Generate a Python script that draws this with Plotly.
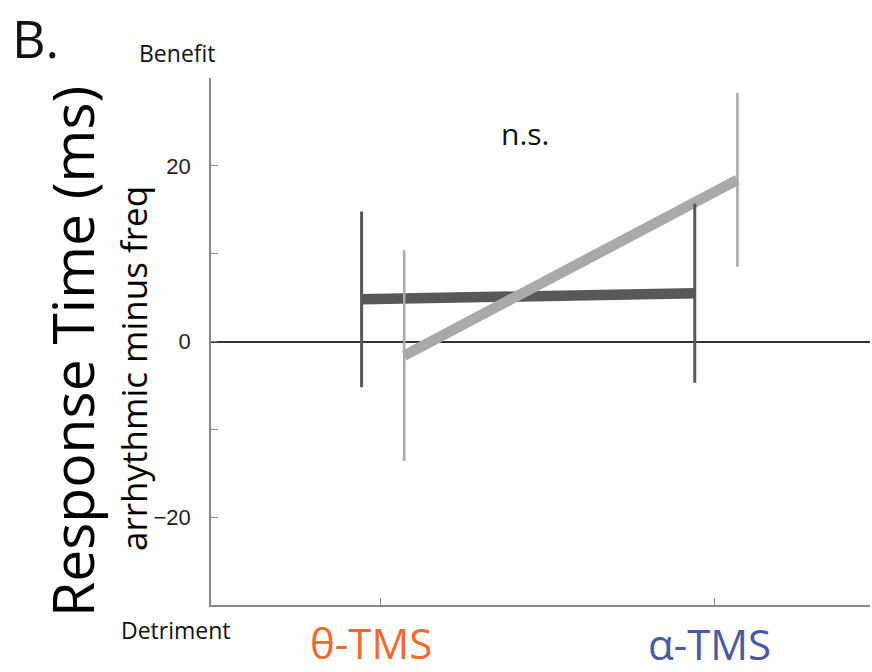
import plotly.graph_objects as go

# ---- data ----
categories = ["θ-TMS", "α-TMS"]
cat_colors = ["#F26A2B", "#4A58A6"]
theta_alpha_pos = [1, 2]
dark_means = [4.8, 5.5]
dark_err = [10.0, 10.2]
light_means = [-1.6, 18.4]
light_err = [12.0, 9.9]
ytick_vals = [-30, -20, -10, 0, 10, 20, 30]
ytick_text = ["", "−20", "", "0", "", "20", ""]

DARK_OFF = -0.058
LIGHT_OFF = 0.07

dark_x = [p + DARK_OFF for p in theta_alpha_pos]
light_x = [p + LIGHT_OFF for p in theta_alpha_pos]

DARK = "#58585A"
LIGHT = "#A8A9AB"

fig = go.Figure()
fig.add_trace(go.Scatter(x=dark_x, y=dark_means, mode="lines",
                         line=dict(color=DARK, width=10.5), hoverinfo="skip"))
fig.add_trace(go.Scatter(x=light_x, y=light_means, mode="lines",
                         line=dict(color=LIGHT, width=10.5), hoverinfo="skip"))
fig.add_trace(go.Scatter(x=dark_x, y=dark_means, mode="markers",
                         marker=dict(size=0.1, color=DARK, opacity=0),
                         error_y=dict(type="data", array=dark_err, width=0,
                                      thickness=3, color=DARK)))
fig.add_trace(go.Scatter(x=light_x, y=light_means, mode="markers",
                         marker=dict(size=0.1, color=LIGHT, opacity=0),
                         error_y=dict(type="data", array=light_err, width=0,
                                      thickness=2.5, color=LIGHT)))

L, R, T, B = 211, 2, 78, 67
W, H = 872, 672
pw, ph = W - L - R, H - T - B

def px(x):
    return (x - L) / pw

def py(y):
    return (H - B - y) / ph

annos = [
    dict(text="B.", x=px(35), y=py(38), font=dict(size=52, color="#111")),
    dict(text="Benefit", x=px(177), y=py(53), font=dict(size=23, color="#111")),
    dict(text="Detriment", x=px(176), y=py(630), font=dict(size=23, color="#111")),
    dict(text="n.s.", x=px(525), y=py(134), font=dict(size=30, color="#111")),
    dict(text="Response Time (ms)", x=px(72), y=py(352), textangle=-90,
         font=dict(size=57, color="#000")),
    dict(text="arrhythmic minus freq", x=px(133), y=py(369), textangle=-90,
         font=dict(size=35, color="#000")),
    dict(text=categories[0], x=px(371), y=py(642), font=dict(size=42, color=cat_colors[0])),
    dict(text=categories[1], x=px(709), y=py(643), font=dict(size=42, color=cat_colors[1])),
]
for a in annos:
    a.update(xref="paper", yref="paper", showarrow=False, xanchor="center", yanchor="middle")
    a["font"]["family"] = "Open Sans"

fig.update_layout(
    width=W, height=H,
    margin=dict(l=L, r=R, t=T, b=B),
    paper_bgcolor="white", plot_bgcolor="white",
    showlegend=False,
    annotations=annos,
    xaxis=dict(range=[0.49, 2.468], tickvals=theta_alpha_pos, ticktext=["", ""],
               ticks="inside", ticklen=7, tickcolor="#888", tickwidth=1.2,
               showline=True, linecolor="#888", linewidth=1.5,
               showgrid=False, zeroline=False, fixedrange=True),
    yaxis=dict(range=[-30, 30], tickvals=ytick_vals, ticktext=ytick_text,
               ticks="inside", ticklen=7, tickcolor="#888", tickwidth=1.2,
               showline=True, linecolor="#888", linewidth=1.5,
               showgrid=False, zeroline=True, zerolinecolor="#333", zerolinewidth=1.5,
               tickfont=dict(family="Liberation Sans", size=22, color="#222"),
               ticklabelstandoff=14, fixedrange=True),
)

fig.write_html("out.html", config={"displayModeBar": False},
               post_script="document.body.style.margin='0';document.body.style.padding='0';")
